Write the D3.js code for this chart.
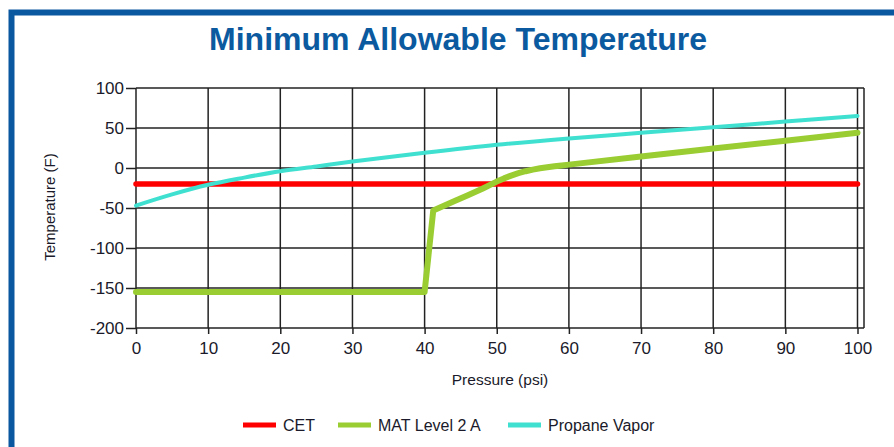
<!DOCTYPE html>
<html><head><meta charset="utf-8">
<script src="https://cdn.jsdelivr.net/npm/d3@7"></script>
<style>html,body{margin:0;padding:0;background:#fff;overflow:hidden}</style>
</head><body>
<svg id="c" width="894" height="447"></svg>
<script>
const title = "Minimum Allowable Temperature";
const xTicks = [0,10,20,30,40,50,60,70,80,90,100];
const yTicks = [100,50,0,-50,-100,-150,-200];
const seriesNames = ["CET","MAT Level 2 A","Propane Vapor"];
const seriesColors = ["#ff0000","#9acd32","#40e0d0"];
const cetX = [0,100];
const cetY = [-20,-20];
const matX = [0,40,41.2,44,46,48,50,51,52,53,54,55,56,57,58,59,60,70,80,90,100];
const matY = [-155,-155,-53,-42,-34,-26,-17,-13,-9.5,-6.5,-4,-2,-0.3,1,2.2,3.2,4.2,14.5,24.5,34,44];
const propX = [0,5,10,15,20,25,30,40,50,60,70,80,90,100];
const propY = [-47,-33,-21,-12,-4,2,8,19,29,37,44,51,58,65];

const svg = d3.select("#c");
const font = "'Liberation Sans', Arial, sans-serif";

// frame
svg.append("rect").attr("x",11.5).attr("y",12.5).attr("width",900).attr("height",460)
  .attr("fill","none").attr("stroke","#0a58a0").attr("stroke-width",6);

svg.append("text").attr("x",458).attr("y",50).attr("text-anchor","middle")
  .attr("font-family",font).attr("font-weight","bold").attr("font-size",32)
  .attr("fill","#0b5aa0").text(title);

const L=136, R=857.5, T=88, B=328, boxR=864;
const x = d3.scaleLinear().domain([0,100]).range([L,R]);
const y = d3.scaleLinear().domain([-200,100]).range([B,T]);

const grid = svg.append("g").attr("stroke","#222").attr("stroke-width",1.5);
xTicks.forEach(t=>grid.append("line").attr("x1",x(t)).attr("x2",x(t)).attr("y1",T).attr("y2",B));
yTicks.forEach(t=>grid.append("line").attr("x1",L).attr("x2",boxR).attr("y1",y(t)).attr("y2",y(t)));
grid.append("line").attr("x1",boxR).attr("x2",boxR).attr("y1",T).attr("y2",B);

const fmt = d => String(d);
const xAxis = svg.append("g").attr("transform",`translate(0,${B})`)
  .call(d3.axisBottom(x).tickValues(xTicks).tickFormat(fmt).tickSize(6).tickPadding(8));
const yAxis = svg.append("g").attr("transform",`translate(${L},0)`)
  .call(d3.axisLeft(y).tickValues(yTicks).tickFormat(fmt).tickSize(10).tickPadding(2));
[xAxis,yAxis].forEach(a=>{
  a.select(".domain").remove();
  a.selectAll(".tick line").attr("stroke","#222").attr("stroke-width",1.5);
  a.selectAll(".tick text").attr("font-family",font).attr("font-size",17).attr("fill","#1a1a2a");
});
yAxis.selectAll(".tick text").attr("dy","0.32em");

svg.append("text").attr("transform","translate(55,207) rotate(-90)").attr("text-anchor","middle")
  .attr("font-family",font).attr("font-size",15).attr("fill","#1a1a2a").text("Temperature (F)");
svg.append("text").attr("x",500).attr("y",385).attr("text-anchor","middle")
  .attr("font-family",font).attr("font-size",15.5).attr("fill","#1a1a2a").text("Pressure (psi)");

const line = d3.line().x(d=>x(d[0])).y(d=>y(d[1]));
const series = [
  {pts:d3.zip(cetX,cetY), w:5.5, curve:d3.curveLinear},
  {pts:d3.zip(matX,matY), w:6, curve:d3.curveLinear},
  {pts:d3.zip(propX,propY), w:4, curve:d3.curveMonotoneX}
];
series.forEach((s,i)=>{
  svg.append("path").attr("d",line.curve(s.curve)(s.pts)).attr("fill","none")
    .attr("stroke",seriesColors[i]).attr("stroke-width",s.w)
    .attr("stroke-linejoin","round").attr("stroke-linecap","round");
});

// legend
const legX = [243,338,508];
seriesNames.forEach((n,i)=>{
  svg.append("line").attr("x1",legX[i]).attr("x2",legX[i]+33).attr("y1",425).attr("y2",425)
    .attr("stroke",seriesColors[i]).attr("stroke-width",5);
  svg.append("text").attr("x",legX[i]+40).attr("y",431).attr("font-family",font).attr("font-size",16)
    .attr("fill","#1a1a2a").text(n);
});
</script>
</body></html>
